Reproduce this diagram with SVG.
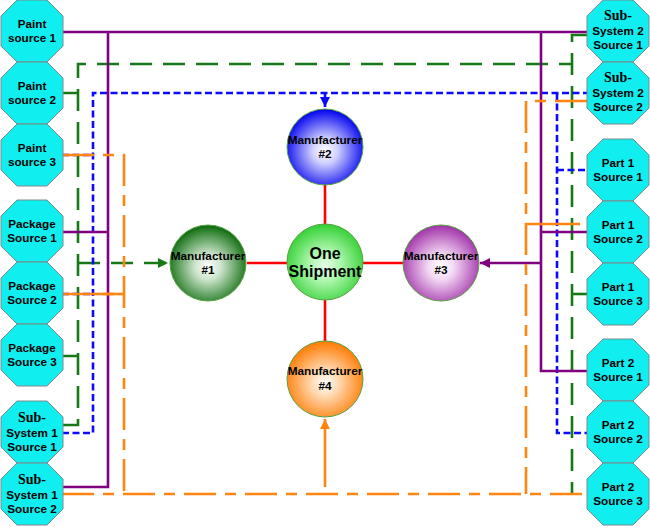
<svg xmlns="http://www.w3.org/2000/svg" width="650" height="527" viewBox="0 0 650 527">
<style>
.oct{fill:#11eef0;stroke:#7a8a8a;stroke-width:1}
.t{font-family:"Liberation Sans",Arial,sans-serif;font-weight:bold;font-size:11.7px;fill:#000;text-anchor:middle}
.ts{font-family:"Liberation Serif","Times New Roman",serif;font-weight:bold;font-size:14px;fill:#000;text-anchor:middle}
.m{font-family:"Liberation Sans",Arial,sans-serif;font-weight:bold;font-size:11.8px;fill:#000;text-anchor:middle}
.big{font-family:"Liberation Sans",Arial,sans-serif;font-weight:bold;font-size:16px;fill:#000;text-anchor:middle}
.circ{stroke:#55a040;stroke-width:1}
.g{fill:none;stroke:#157a15;stroke-width:2.6;stroke-dasharray:22 11}
.gs{fill:none;stroke:#157a15;stroke-width:2.6}
.b{fill:none;stroke:#0a0aff;stroke-width:2.6;stroke-dasharray:7 3.5}
.p{fill:none;stroke:#800080;stroke-width:2.6}
.o{fill:none;stroke:#ff8410;stroke-width:2.6;stroke-dasharray:32 9 11 9}
.os{fill:none;stroke:#ff8410;stroke-width:2.6}
.r{fill:none;stroke:#ff0000;stroke-width:2.6}
</style>
<defs>
<radialGradient id="gBlue" cx="50%" cy="55%" r="55%"><stop offset="0" stop-color="#ffffff"/><stop offset="0.3" stop-color="#d0d0ff"/><stop offset="1" stop-color="#0000ee"/></radialGradient>
<radialGradient id="gDark" cx="50%" cy="55%" r="55%"><stop offset="0" stop-color="#ffffff"/><stop offset="0.3" stop-color="#d0e6d0"/><stop offset="1" stop-color="#0a6a0a"/></radialGradient>
<radialGradient id="gLight" cx="50%" cy="55%" r="55%"><stop offset="0" stop-color="#e8ffe8"/><stop offset="0.4" stop-color="#a8f5a8"/><stop offset="1" stop-color="#33d033"/></radialGradient>
<radialGradient id="gPurple" cx="50%" cy="55%" r="55%"><stop offset="0" stop-color="#ffffff"/><stop offset="0.3" stop-color="#f4daf4"/><stop offset="1" stop-color="#a030a8"/></radialGradient>
<radialGradient id="gOrange" cx="50%" cy="55%" r="55%"><stop offset="0" stop-color="#ffffff"/><stop offset="0.3" stop-color="#ffdcb8"/><stop offset="1" stop-color="#ff7a00"/></radialGradient>
<marker id="ag" viewBox="0 0 10 10" refX="10" refY="5" markerWidth="12" markerHeight="10" markerUnits="userSpaceOnUse" orient="auto"><path d="M0,0 L10,5 L0,10 z" fill="#157a15"/></marker>
<marker id="ab" viewBox="0 0 10 10" refX="10" refY="5" markerWidth="11" markerHeight="10" markerUnits="userSpaceOnUse" orient="auto"><path d="M0,0 L10,5 L0,10 z" fill="#0a0aff"/></marker>
<marker id="ap" viewBox="0 0 10 10" refX="10" refY="5" markerWidth="12" markerHeight="10" markerUnits="userSpaceOnUse" orient="auto"><path d="M0,0 L10,5 L0,10 z" fill="#800080"/></marker>
<marker id="ao" viewBox="0 0 10 10" refX="10" refY="5" markerWidth="12" markerHeight="10" markerUnits="userSpaceOnUse" orient="auto"><path d="M0,0 L10,5 L0,10 z" fill="#ff8410"/></marker>
<polygon id="octa" points="-15,-31 15,-31 31,-15 31,15 15,31 -15,31 -31,15 -31,-15"/>
</defs>

<g id="connectors">
<!-- green -> Manufacturer #1 -->
<path class="g" d="M62,425 H78 V64 H572"/>
<path class="g" d="M587,35 H572 V494"/>
<path class="gs" d="M62,93 H78 M62,356 H78"/>
<path class="g" d="M572,294 H587"/>
<path class="g" d="M78,263 H168" marker-end="url(#ag)"/>
<!-- blue -> Manufacturer #2 -->
<path class="b" d="M62,433 H93 V93 H587"/>
<path class="b" d="M557,93 V433 H587"/>
<path class="b" d="M62,294 H93 M62,155 H93 M557,170 H587"/>
<path class="b" d="M325,93 V107" marker-end="url(#ab)"/>
<!-- purple -> Manufacturer #3 -->
<path class="p" d="M62,32 H587"/>
<path class="p" d="M108,32 V487 H62"/>
<path class="p" d="M62,232 H108"/>
<path class="p" d="M541,32 V371 H587"/>
<path class="p" d="M541,232 H587"/>
<path class="p" d="M541,263 H480" marker-end="url(#ap)"/>
<!-- orange -> Manufacturer #4 -->
<path class="o" d="M62,155 H124 V494"/>
<path class="os" d="M93,294 H124"/>
<path class="o" d="M62,294 H124"/>
<path class="o" d="M62,494 H587"/>
<path class="o" d="M587,101 H526 V494"/>
<path class="os" d="M526,224 H580"/>
<path class="os" d="M325,487 V419" marker-end="url(#ao)"/>
<!-- red hub -->
<path class="r" d="M325,185 V224 M247,263 H287 M363,263 H403 M325,300 V341"/>
</g>

<g id="paint-source-1"><use href="#octa" x="32" y="31" class="oct"/><text class="t" x="32" y="28">Paint</text><text class="t" x="32" y="42">source 1</text></g>
<g id="paint-source-2"><use href="#octa" x="32" y="93" class="oct"/><text class="t" x="32" y="90">Paint</text><text class="t" x="32" y="104">source 2</text></g>
<g id="paint-source-3"><use href="#octa" x="32" y="155" class="oct"/><text class="t" x="32" y="152">Paint</text><text class="t" x="32" y="166">source 3</text></g>
<g id="package-source-1"><use href="#octa" x="32" y="231" class="oct"/><text class="t" x="32" y="228">Package</text><text class="t" x="32" y="242">Source 1</text></g>
<g id="package-source-2"><use href="#octa" x="32" y="293" class="oct"/><text class="t" x="32" y="290">Package</text><text class="t" x="32" y="304">Source 2</text></g>
<g id="package-source-3"><use href="#octa" x="32" y="355" class="oct"/><text class="t" x="32" y="352">Package</text><text class="t" x="32" y="366">Source 3</text></g>
<g id="subsystem-1-source-1"><use href="#octa" x="32" y="432" class="oct"/><text class="ts" x="32" y="422">Sub-</text><text class="t" x="32" y="437">System 1</text><text class="t" x="32" y="451">Source 1</text></g>
<g id="subsystem-1-source-2"><use href="#octa" x="32" y="494" class="oct"/><text class="ts" x="32" y="484">Sub-</text><text class="t" x="32" y="499">System 1</text><text class="t" x="32" y="513">Source 2</text></g>

<g id="subsystem-2-source-1"><use href="#octa" x="618" y="31" class="oct"/><text class="ts" x="618" y="20">Sub-</text><text class="t" x="618" y="35">System 2</text><text class="t" x="618" y="49">Source 1</text></g>
<g id="subsystem-2-source-2"><use href="#octa" x="618" y="93" class="oct"/><text class="ts" x="618" y="82">Sub-</text><text class="t" x="618" y="97">System 2</text><text class="t" x="618" y="111">Source 2</text></g>
<g id="part-1-source-1"><use href="#octa" x="618" y="170" class="oct"/><text class="t" x="618" y="167">Part 1</text><text class="t" x="618" y="181">Source 1</text></g>
<g id="part-1-source-2"><use href="#octa" x="618" y="232" class="oct"/><text class="t" x="618" y="229">Part 1</text><text class="t" x="618" y="243">Source 2</text></g>
<g id="part-1-source-3"><use href="#octa" x="618" y="294" class="oct"/><text class="t" x="618" y="291">Part 1</text><text class="t" x="618" y="305">Source 3</text></g>
<g id="part-2-source-1"><use href="#octa" x="618" y="370" class="oct"/><text class="t" x="618" y="367">Part 2</text><text class="t" x="618" y="381">Source 1</text></g>
<g id="part-2-source-2"><use href="#octa" x="618" y="432" class="oct"/><text class="t" x="618" y="429">Part 2</text><text class="t" x="618" y="443">Source 2</text></g>
<g id="part-2-source-3"><use href="#octa" x="618" y="494" class="oct"/><text class="t" x="618" y="491">Part 2</text><text class="t" x="618" y="505">Source 3</text></g>

<g id="manufacturer-2"><circle cx="325" cy="147" r="38" fill="url(#gBlue)" class="circ"/><text class="m" x="325" y="144">Manufacturer</text><text class="m" x="325" y="158">#2</text></g>
<g id="manufacturer-1"><circle cx="208" cy="263" r="38" fill="url(#gDark)" class="circ"/><text class="m" x="208" y="260">Manufacturer</text><text class="m" x="208" y="274">#1</text></g>
<g id="one-shipment"><circle cx="325" cy="262" r="38" fill="url(#gLight)" class="circ"/><text class="big" x="325" y="259">One</text><text class="big" x="325" y="277">Shipment</text></g>
<g id="manufacturer-3"><circle cx="441" cy="263" r="38" fill="url(#gPurple)" class="circ"/><text class="m" x="441" y="260">Manufacturer</text><text class="m" x="441" y="274">#3</text></g>
<g id="manufacturer-4"><circle cx="325" cy="379" r="38" fill="url(#gOrange)" class="circ"/><text class="m" x="325" y="375">Manufacturer</text><text class="m" x="325" y="390">#4</text></g>
</svg>
